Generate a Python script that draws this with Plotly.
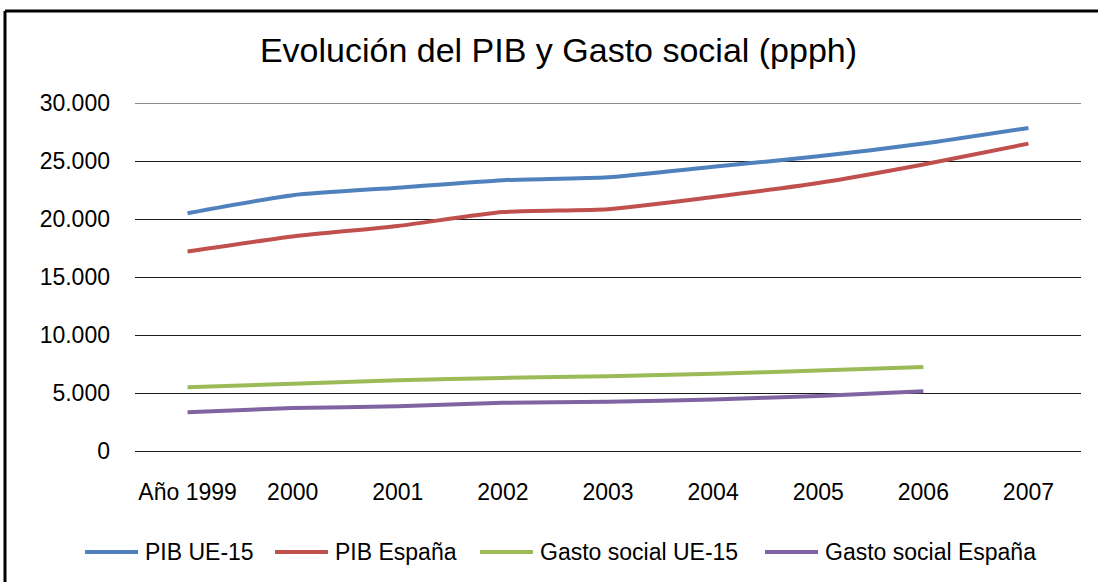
import plotly.graph_objects as go

# categorías del eje X
anios = ['Año 1999', '2000', '2001', '2002', '2003', '2004', '2005', '2006', '2007']

# series (ppph)
pib_ue15 = [20500, 22050, 22700, 23350, 23600, 24500, 25400, 26500, 27850]
pib_espana = [17200, 18500, 19400, 20600, 20850, 21900, 23100, 24700, 26500]
gasto_ue15 = [5500, 5800, 6100, 6300, 6450, 6650, 6950, 7250, None]
gasto_espana = [3350, 3700, 3850, 4150, 4250, 4450, 4750, 5150, None]

y_ticks = [0, 5000, 10000, 15000, 20000, 25000, 30000]
y_labels = ['0', '5.000', '10.000', '15.000', '20.000', '25.000', '30.000']

series = [
    ('PIB UE-15', pib_ue15, '#4F81BD'),
    ('PIB España', pib_espana, '#C0504D'),
    ('Gasto social UE-15', gasto_ue15, '#9BBB59'),
    ('Gasto social España', gasto_espana, '#8064A2'),
]

# área del gráfico en píxeles
W, H = 1098, 582
L, R, T, B = 135, 17, 103, 131
PW, PH = W - L - R, H - T - B
GRID = '#1a1a1a'


def px_x(x):
    return (x - L) / PW


def px_y(y):
    return (H - B - y) / PH


fig = go.Figure()
for nombre, valores, color in series:
    fig.add_trace(go.Scatter(
        x=anios,
        y=valores,
        name=nombre,
        mode='lines',
        line=dict(color=color, width=4, shape='spline', smoothing=0.6),
        showlegend=False,
    ))

# leyenda dibujada a mano (línea larga como en Excel)
shapes = []
annotations = []
leyenda_x = [85, 275, 480, 765]
for (nombre, valores, color), x0 in zip(series, leyenda_x):
    shapes.append(dict(
        type='line', xref='paper', yref='paper',
        x0=px_x(x0), x1=px_x(x0 + 53), y0=px_y(552), y1=px_y(552),
        line=dict(color=color, width=4),
    ))
    annotations.append(dict(
        text=nombre, xref='paper', yref='paper',
        x=px_x(x0 + 58), y=px_y(552),
        xanchor='left', yanchor='middle', showarrow=False,
        font=dict(size=23, color='black'),
    ))

# línea de 30.000 (plotly no dibuja la rejilla en el borde)
shapes.append(dict(
    type='line', xref='paper', yref='y',
    x0=0, x1=1, y0=30000, y1=30000,
    line=dict(color=GRID, width=1),
    layer='below',
))

# marco del gráfico (solo lados superior e izquierdo quedan a la vista)
shapes.append(dict(
    type='line', xref='paper', yref='paper',
    x0=px_x(5), x1=px_x(1140), y0=px_y(11), y1=px_y(11),
    line=dict(color='black', width=3),
    layer='below',
))
shapes.append(dict(
    type='line', xref='paper', yref='paper',
    x0=px_x(5), x1=px_x(5), y0=px_y(11), y1=px_y(620),
    line=dict(color='black', width=3),
    layer='below',
))

fig.update_layout(
    width=W,
    height=H,
    margin=dict(l=L, r=R, t=T, b=B),
    paper_bgcolor='white',
    plot_bgcolor='white',
    font=dict(family='Liberation Sans, Arial, sans-serif', color='black', size=23),
    title=dict(
        text='Evolución del PIB y Gasto social (ppph)',
        x=558.5 / W, xanchor='center',
        y=1 - 50 / H, yanchor='middle',
        font=dict(size=34, color='black'),
    ),
    xaxis=dict(
        type='category',
        range=[-0.5, 8.5],
        showgrid=False,
        zeroline=False,
        showline=False,
        ticks='',
        ticklabelstandoff=25,
        tickfont=dict(size=23),
    ),
    yaxis=dict(
        range=[0, 30000],
        tickvals=y_ticks,
        ticktext=y_labels,
        showgrid=True,
        gridcolor=GRID,
        gridwidth=1,
        zeroline=True,
        zerolinecolor=GRID,
        zerolinewidth=1,
        showline=False,
        ticks='',
        ticklabelstandoff=24,
        tickfont=dict(size=23),
    ),
    shapes=shapes,
    annotations=annotations,
    showlegend=False,
)

fig.write_html(
    'out.html',
    config={'displayModeBar': False},
    post_script="document.body.style.margin='0';",
)
